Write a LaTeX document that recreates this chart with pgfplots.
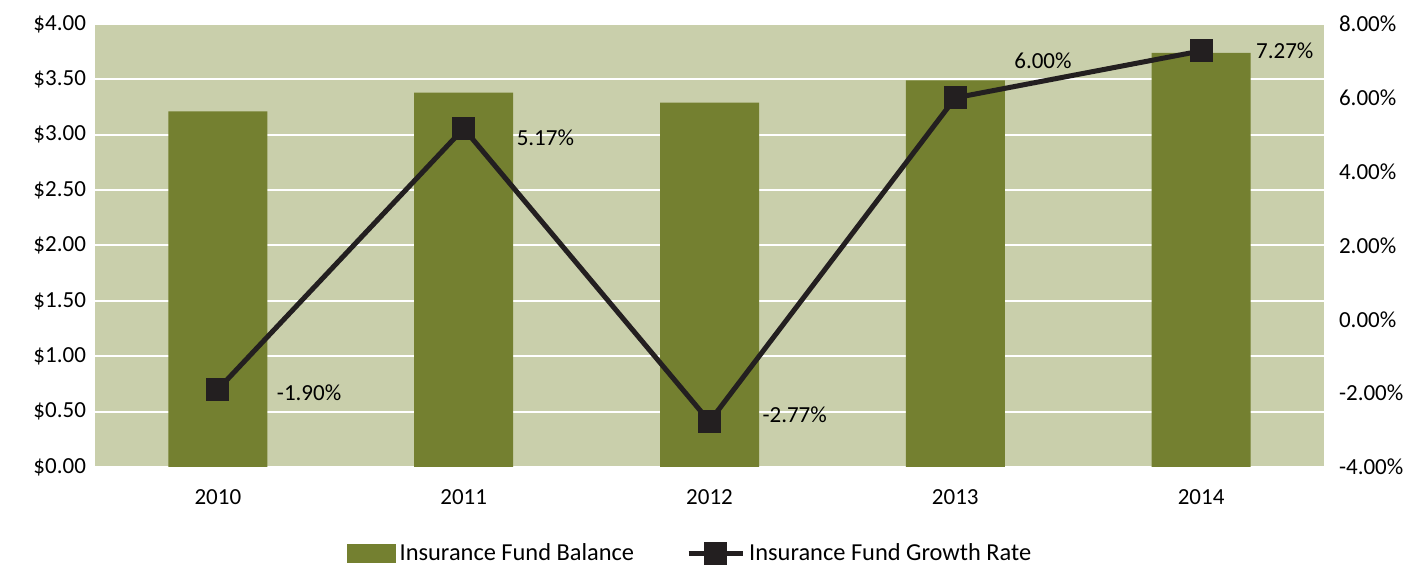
\documentclass[border=0pt]{standalone}
\usepackage{pgfplots}
\pgfplotsset{compat=1.18}
\usepackage{fontspec}
\setmainfont{Carlito}
\definecolor{bgc}{HTML}{C9CFAB}
\definecolor{barc}{HTML}{748030}
\definecolor{linec}{HTML}{231F20}
\newcommand\f{\fontsize{11.5pt}{13.8pt}\selectfont}
\newcommand\fl{\fontsize{12.2pt}{14.6pt}\selectfont}
\begin{document}
\begin{tikzpicture}
\path[use as bounding box] (0,0) rectangle (708.5pt,283pt);
\begin{axis}[
  at={(47.5pt,49.5pt)}, anchor=south west,
  scale only axis, width=614.5pt, height=221.5pt,
  xmin=-0.5, xmax=4.5, ymin=0, ymax=4,
  axis background/.style={fill=bgc},
  axis line style={draw=none},
  major tick length=0pt,
  xtick={0,1,2,3,4},
  xticklabels={2010,2011,2012,2013,2014},
  ytick={0,0.5,1,1.5,2,2.5,3,3.5,4},
  yticklabels={\$0.00,\$0.50,\$1.00,\$1.50,\$2.00,\$2.50,\$3.00,\$3.50,\$4.00},
  ymajorgrids, grid style={white, line width=1pt},
  tick label style={font=\f},
  xticklabel style={yshift=-8pt},
  yticklabel style={xshift=-1pt},
]
\addplot[ybar, bar width=49.5pt, fill=barc, draw=none] coordinates {
 (0,3.21) (1,3.38) (2,3.29) (3,3.49) (4,3.74)};
\end{axis}
\begin{axis}[
  at={(47.5pt,49.5pt)}, anchor=south west,
  scale only axis, width=614.5pt, height=221.5pt,
  xmin=-0.5, xmax=4.5, ymin=-4, ymax=8,
  axis y line*=right, hide x axis,
  axis line style={draw=none},
  major tick length=0pt,
  ytick={-4,-2,0,2,4,6,8},
  yticklabels={-4.00\%,-2.00\%,0.00\%,2.00\%,4.00\%,6.00\%,8.00\%},
  tick label style={font=\f},
  yticklabel style={xshift=4pt},
  legend style={at={(0.485,-0.196)}, anchor=center, draw=none, fill=none,
    font=\fl, legend columns=2,
    /tikz/every even column/.append style={column sep=24pt}},
  legend cell align=left,
]
\addlegendimage{legend image code/.code={\fill[barc] (-2pt,-4.5pt) rectangle (22pt,4.5pt);}}
\addlegendentry{Insurance Fund Balance}
\addplot[linec, line width=2.5pt, mark=square*, mark size=4.5pt,
  legend image code/.code={\draw[linec, line width=2.5pt] (-2pt,0)--(25pt,0);
  \fill[linec] (7pt,-4.5pt) rectangle (16pt,4.5pt);}] coordinates {
 (0,-1.90) (1,5.17) (2,-2.77) (3,6.00) (4,7.27)};
\addlegendentry{Insurance Fund Growth Rate}
\node[font=\f, anchor=west] at (axis cs:0,-1.90) [xshift=26pt, yshift=-1.5pt] {-1.90\%};
\node[font=\f, anchor=west] at (axis cs:1,5.17) [xshift=23pt, yshift=-4.5pt] {5.17\%};
\node[font=\f, anchor=west] at (axis cs:2,-2.77) [xshift=23pt, yshift=3.5pt] {-2.77\%};
\node[font=\f, anchor=west] at (axis cs:3,6.00) [xshift=26pt, yshift=18.5pt] {6.00\%};
\node[font=\f, anchor=west] at (axis cs:4,7.27) [xshift=24pt, yshift=0pt] {7.27\%};
\end{axis}
\end{tikzpicture}
\end{document}
